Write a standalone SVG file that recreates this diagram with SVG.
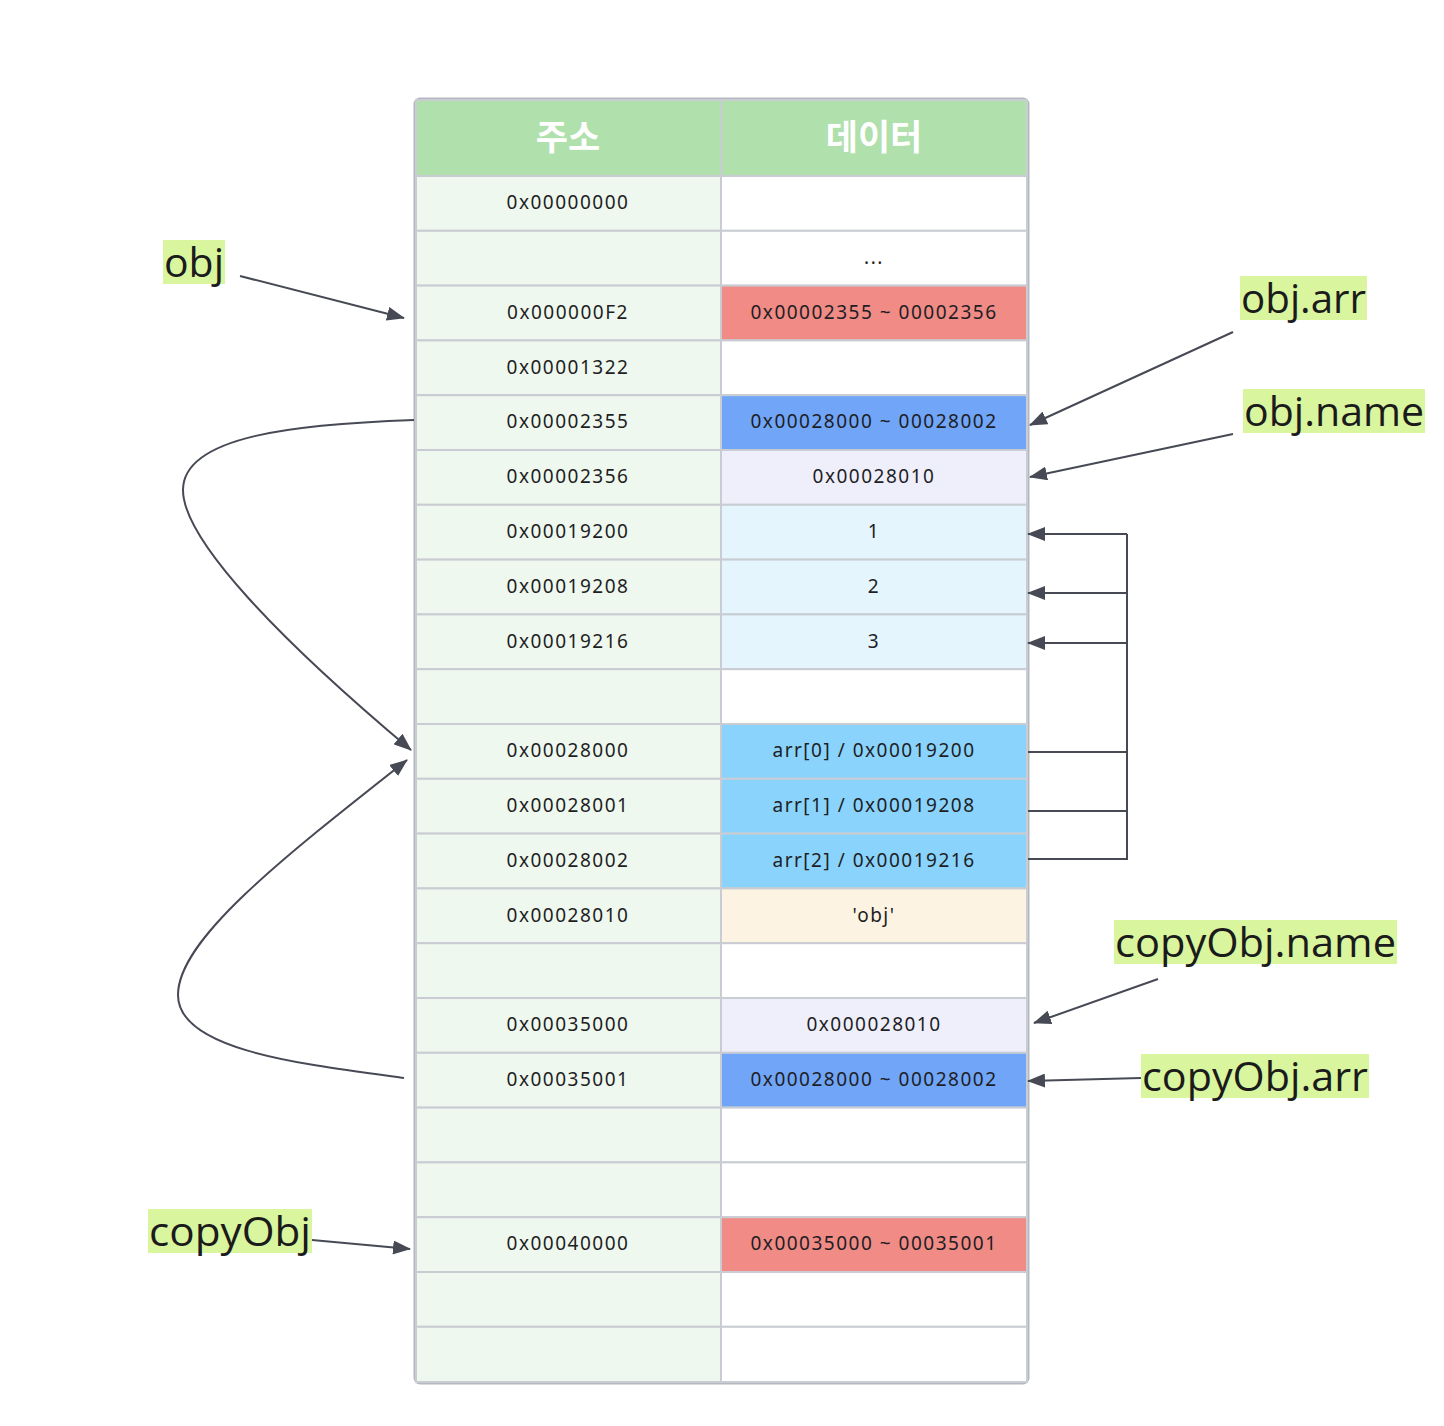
<svg xmlns="http://www.w3.org/2000/svg" width="1444" height="1426" viewBox="0 0 1444 1426">
<style>
.c{stroke:#c9cdd3;stroke-width:2}
.a{fill:#eef8ee}
.w{fill:#ffffff}
.t{font-family:"Noto Sans","Open Sans",sans-serif;font-size:19px;letter-spacing:1.5px;fill:#1e1e24;text-anchor:middle}
.h{font-family:"Noto Sans CJK KR",sans-serif;font-size:35px;font-weight:bold;fill:#ffffff;text-anchor:middle}
.lb{fill:#d9f59e}
.lt{font-family:"Open Sans","Noto Sans",sans-serif;font-size:40px;fill:#1b1b1b}
.e{fill:none;stroke:#474a54;stroke-width:2}
</style>
<defs>
<marker id="ar" markerUnits="userSpaceOnUse" markerWidth="18" markerHeight="14" refX="17" refY="7" orient="auto">
<path d="M0,0 L18,7 L0,14 z" fill="#474a54"/>
</marker>
</defs>
<rect width="1444" height="1426" fill="#ffffff"/>
<g id="table">
<rect x="415" y="99" width="613" height="1284" rx="5" fill="#ffffff" stroke="#b4b8bf" stroke-width="3"/>
<rect class="c" x="416" y="100" width="305" height="76" fill="#b0e0ac"/>
<rect class="c" x="721" y="100" width="306" height="76" fill="#b0e0ac"/>
<text class="h" x="568" y="150">주소</text>
<text class="h" x="874" y="150">데이터</text>
</g>
<g id="rows">
<g id="r1"><rect class="c a" x="416" y="176" width="305" height="54.8"/><rect class="c w" x="721" y="176" width="306" height="54.8"/><text class="t" x="568" y="209">0x00000000</text></g>
<g id="r2"><rect class="c a" x="416" y="230.8" width="305" height="54.8"/><rect class="c w" x="721" y="230.8" width="306" height="54.8"/><text class="t" x="874" y="264">...</text></g>
<g id="r3"><rect class="c a" x="416" y="285.6" width="305" height="54.8"/><rect class="c" x="721" y="285.6" width="306" height="54.8" fill="#f08b86"/><text class="t" x="568" y="319">0x000000F2</text><text class="t" x="874" y="319">0x00002355 ~ 00002356</text></g>
<g id="r4"><rect class="c a" x="416" y="340.4" width="305" height="54.8"/><rect class="c w" x="721" y="340.4" width="306" height="54.8"/><text class="t" x="568" y="374">0x00001322</text></g>
<g id="r5"><rect class="c a" x="416" y="395.2" width="305" height="54.8"/><rect class="c" x="721" y="395.2" width="306" height="54.8" fill="#70a5f8"/><text class="t" x="568" y="428">0x00002355</text><text class="t" x="874" y="428">0x00028000 ~ 00028002</text></g>
<g id="r6"><rect class="c a" x="416" y="450" width="305" height="54.8"/><rect class="c" x="721" y="450" width="306" height="54.8" fill="#efeffc"/><text class="t" x="568" y="483">0x00002356</text><text class="t" x="874" y="483">0x00028010</text></g>
<g id="r7"><rect class="c a" x="416" y="504.8" width="305" height="54.8"/><rect class="c" x="721" y="504.8" width="306" height="54.8" fill="#e4f5fd"/><text class="t" x="568" y="538">0x00019200</text><text class="t" x="874" y="538">1</text></g>
<g id="r8"><rect class="c a" x="416" y="559.6" width="305" height="54.8"/><rect class="c" x="721" y="559.6" width="306" height="54.8" fill="#e4f5fd"/><text class="t" x="568" y="593">0x00019208</text><text class="t" x="874" y="593">2</text></g>
<g id="r9"><rect class="c a" x="416" y="614.4" width="305" height="54.8"/><rect class="c" x="721" y="614.4" width="306" height="54.8" fill="#e4f5fd"/><text class="t" x="568" y="648">0x00019216</text><text class="t" x="874" y="648">3</text></g>
<g id="r10"><rect class="c a" x="416" y="669.2" width="305" height="54.8"/><rect class="c w" x="721" y="669.2" width="306" height="54.8"/></g>
<g id="r11"><rect class="c a" x="416" y="724" width="305" height="54.8"/><rect class="c" x="721" y="724" width="306" height="54.8" fill="#8ad3fc"/><text class="t" x="568" y="757">0x00028000</text><text class="t" x="874" y="757">arr[0] / 0x00019200</text></g>
<g id="r12"><rect class="c a" x="416" y="778.8" width="305" height="54.8"/><rect class="c" x="721" y="778.8" width="306" height="54.8" fill="#8ad3fc"/><text class="t" x="568" y="812">0x00028001</text><text class="t" x="874" y="812">arr[1] / 0x00019208</text></g>
<g id="r13"><rect class="c a" x="416" y="833.6" width="305" height="54.8"/><rect class="c" x="721" y="833.6" width="306" height="54.8" fill="#8ad3fc"/><text class="t" x="568" y="867">0x00028002</text><text class="t" x="874" y="867">arr[2] / 0x00019216</text></g>
<g id="r14"><rect class="c a" x="416" y="888.4" width="305" height="54.8"/><rect class="c" x="721" y="888.4" width="306" height="54.8" fill="#fdf3e3"/><text class="t" x="568" y="922">0x00028010</text><text class="t" x="874" y="922">'obj'</text></g>
<g id="r15"><rect class="c a" x="416" y="943.2" width="305" height="54.8"/><rect class="c w" x="721" y="943.2" width="306" height="54.8"/></g>
<g id="r16"><rect class="c a" x="416" y="998" width="305" height="54.8"/><rect class="c" x="721" y="998" width="306" height="54.8" fill="#efeffc"/><text class="t" x="568" y="1031">0x00035000</text><text class="t" x="874" y="1031">0x000028010</text></g>
<g id="r17"><rect class="c a" x="416" y="1052.8" width="305" height="54.8"/><rect class="c" x="721" y="1052.8" width="306" height="54.8" fill="#70a5f8"/><text class="t" x="568" y="1086">0x00035001</text><text class="t" x="874" y="1086">0x00028000 ~ 00028002</text></g>
<g id="r18"><rect class="c a" x="416" y="1107.6" width="305" height="54.8"/><rect class="c w" x="721" y="1107.6" width="306" height="54.8"/></g>
<g id="r19"><rect class="c a" x="416" y="1162.4" width="305" height="54.8"/><rect class="c w" x="721" y="1162.4" width="306" height="54.8"/></g>
<g id="r20"><rect class="c a" x="416" y="1217.2" width="305" height="54.8"/><rect class="c" x="721" y="1217.2" width="306" height="54.8" fill="#f08b86"/><text class="t" x="568" y="1250">0x00040000</text><text class="t" x="874" y="1250">0x00035000 ~ 00035001</text></g>
<g id="r21"><rect class="c a" x="416" y="1272" width="305" height="54.8"/><rect class="c w" x="721" y="1272" width="306" height="54.8"/></g>
<g id="r22"><rect class="c a" x="416" y="1326.8" width="305" height="55.2"/><rect class="c w" x="721" y="1326.8" width="306" height="55.2"/></g>
</g>
<g id="labels">
<g id="l-obj"><rect class="lb" x="163" y="240" width="62" height="44"/><text class="lt" x="164" y="277" textLength="60" lengthAdjust="spacingAndGlyphs">obj</text></g>
<g id="l-objarr"><rect class="lb" x="1240" y="276" width="127" height="44"/><text class="lt" x="1241" y="313" textLength="125" lengthAdjust="spacingAndGlyphs">obj.arr</text></g>
<g id="l-objname"><rect class="lb" x="1243" y="389" width="182" height="44"/><text class="lt" x="1244" y="426" textLength="180" lengthAdjust="spacingAndGlyphs">obj.name</text></g>
<g id="l-copyname"><rect class="lb" x="1114" y="920" width="283" height="44"/><text class="lt" x="1115" y="957" textLength="281" lengthAdjust="spacingAndGlyphs">copyObj.name</text></g>
<g id="l-copyarr"><rect class="lb" x="1141" y="1054" width="228" height="44"/><text class="lt" x="1142" y="1091" textLength="226" lengthAdjust="spacingAndGlyphs">copyObj.arr</text></g>
<g id="l-copy"><rect class="lb" x="148" y="1209" width="164" height="44"/><text class="lt" x="149" y="1246" textLength="162" lengthAdjust="spacingAndGlyphs">copyObj</text></g>
</g>
<g id="connectors">
<line class="e" x1="240" y1="276" x2="404" y2="318" marker-end="url(#ar)"/>
<line class="e" x1="1233" y1="332" x2="1030" y2="425" marker-end="url(#ar)"/>
<line class="e" x1="1233" y1="434" x2="1030" y2="477" marker-end="url(#ar)"/>
<line class="e" x1="1158" y1="979" x2="1034" y2="1023" marker-end="url(#ar)"/>
<line class="e" x1="1141" y1="1078" x2="1028" y2="1081" marker-end="url(#ar)"/>
<line class="e" x1="312" y1="1240" x2="410" y2="1249" marker-end="url(#ar)"/>
<path class="e" d="M414,420 C300,424 183,435 183,490 C183,540 280,640 411,750" marker-end="url(#ar)"/>
<path class="e" d="M404,1078 C300,1064 178,1050 178,995 C178,940 280,860 407,760" marker-end="url(#ar)"/>
<polyline class="e" points="1028,752 1127,752"/>
<polyline class="e" points="1028,811 1127,811"/>
<polyline class="e" points="1028,859 1127,859 1127,534"/>
<line class="e" x1="1127" y1="534" x2="1028" y2="534" marker-end="url(#ar)"/>
<line class="e" x1="1127" y1="593" x2="1028" y2="593" marker-end="url(#ar)"/>
<line class="e" x1="1127" y1="643" x2="1028" y2="643" marker-end="url(#ar)"/>
</g>
</svg>
